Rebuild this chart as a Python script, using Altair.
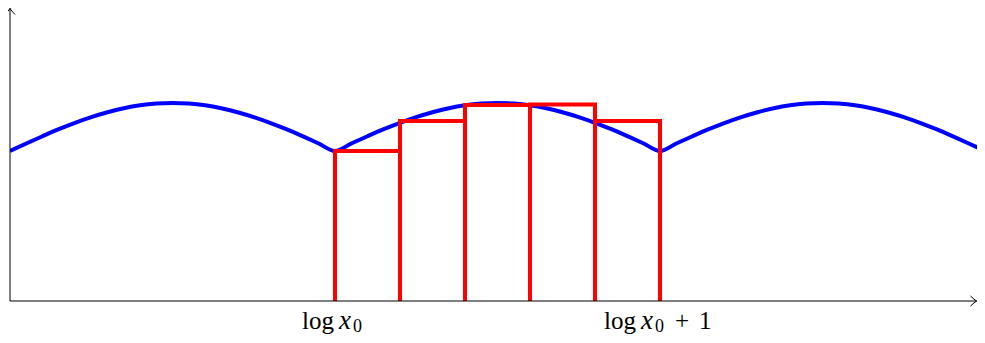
import altair as alt
import pandas as pd

# Blue curve (x in units of log x, heights)
curve_x = [-1.00, -0.95, -0.90, -0.85, -0.80, -0.75, -0.70, -0.65, -0.60, -0.55, -0.50,
           -0.45, -0.40, -0.35, -0.30, -0.25, -0.20, -0.15, -0.10, -0.05, 0.00,
           0.05, 0.10, 0.15, 0.20, 0.25, 0.30, 0.35, 0.40, 0.45, 0.50,
           0.55, 0.60, 0.65, 0.70, 0.75, 0.80, 0.85, 0.90, 0.95, 1.00,
           1.05, 1.10, 1.15, 1.20, 1.25, 1.30, 1.35, 1.40, 1.45, 1.50,
           1.55, 1.60, 1.65, 1.70, 1.75, 1.80, 1.85, 1.90, 1.95, 2.00]
curve_y = [1.500, 1.575, 1.648, 1.718, 1.782, 1.839, 1.888, 1.928, 1.957, 1.974, 1.980,
           1.974, 1.957, 1.928, 1.888, 1.839, 1.782, 1.718, 1.648, 1.575, 1.500,
           1.575, 1.648, 1.718, 1.782, 1.839, 1.888, 1.928, 1.957, 1.974, 1.980,
           1.974, 1.957, 1.928, 1.888, 1.839, 1.782, 1.718, 1.648, 1.575, 1.500,
           1.575, 1.648, 1.718, 1.782, 1.839, 1.888, 1.928, 1.957, 1.974, 1.980,
           1.974, 1.957, 1.928, 1.888, 1.839, 1.782, 1.718, 1.648, 1.575, 1.500]

# Red step bars
bar_left = [0.0, 0.2, 0.4, 0.6, 0.8]
bar_right = [0.2, 0.4, 0.6, 0.8, 1.0]
bar_height = [1.50, 1.80, 1.96, 1.965, 1.80]

# Tick labels
tick_pos = [0, 1]

W, H = 967, 293
xs = alt.Scale(domain=[-1, 2 - 8 / 325], nice=False, zero=False)
ys = alt.Scale(domain=[0, 2.93], nice=False, zero=False)

curve_df = pd.DataFrame({"x": curve_x, "y": curve_y})
bars_df = pd.DataFrame({"x": bar_left, "x2": bar_right, "h": bar_height})

line = alt.Chart(curve_df).mark_line(color="#0000ff", strokeWidth=4, interpolate="monotone", clip=True).encode(
    x=alt.X("x:Q", scale=xs, axis=None),
    y=alt.Y("y:Q", scale=ys, axis=None),
)

bars = alt.Chart(bars_df).mark_rect(fillOpacity=0, stroke="#ff0000", strokeWidth=4, clip=True).encode(
    x=alt.X("x:Q", scale=xs, axis=None),
    x2="x2:Q",
    y=alt.Y("h:Q", scale=ys, axis=None),
    y2=alt.value(H + 10),
)

axis_df = pd.DataFrame({"a": [0]})
x_axis = alt.Chart(axis_df).mark_rule(color="black", strokeWidth=1).encode(
    x=alt.value(0), x2=alt.value(W), y=alt.value(H)
)
y_axis = alt.Chart(axis_df).mark_rule(color="black", strokeWidth=1).encode(
    x=alt.value(0), y=alt.value(0), y2=alt.value(H)
)
x_arrow = alt.Chart(axis_df).mark_point(
    shape="M -1.5 -1.25 Q -0.5 -0.3 0 0 Q -0.5 0.3 -1.5 1.25",
    filled=False, color="black", strokeWidth=1, size=64, opacity=1,
).encode(x=alt.value(W - 0.5), y=alt.value(H))
y_arrow = alt.Chart(axis_df).mark_point(
    shape="M -1.25 1.5 Q -0.3 0.5 0 0 Q 0.3 0.5 1.25 1.5",
    filled=False, color="black", strokeWidth=1, size=64, opacity=1,
).encode(x=alt.value(0), y=alt.value(0.5))

FONT = "Liberation Serif"
FS = 25
BASE = 28


def piece(pos, text, dx, align="left", style="normal", size=FS, dy=BASE):
    df = pd.DataFrame({"x": [pos], "t": [text]})
    return alt.Chart(df).mark_text(
        font=FONT, fontSize=size, fontStyle=style, align=align, baseline="alphabetic",
        dx=dx, dy=dy, color="black",
    ).encode(x=alt.X("x:Q", scale=xs, axis=None), y=alt.value(H), text="t:N")


labels = [
    piece(tick_pos[0], "log", -1, align="right"),
    piece(tick_pos[0], "x", 4, style="italic", size=27),
    piece(tick_pos[0], "0", 18, size=18, dy=BASE + 3),
    piece(tick_pos[1], "log", -24, align="right"),
    piece(tick_pos[1], "x", -19, style="italic", size=27),
    piece(tick_pos[1], "0", -5, size=18, dy=BASE + 3),
    piece(tick_pos[1], "+", 15),
    piece(tick_pos[1], "1", 39),
]

chart = alt.layer(line, bars, x_axis, y_axis, x_arrow, y_arrow, *labels).properties(
    width=W, height=H,
    padding={"left": 2, "top": 0, "right": 0, "bottom": 34},
    autosize=alt.AutoSizeParams(type="none"),
).configure_view(stroke=None)

chart.save("out.html", embed_options={"renderer": "svg", "actions": False})
